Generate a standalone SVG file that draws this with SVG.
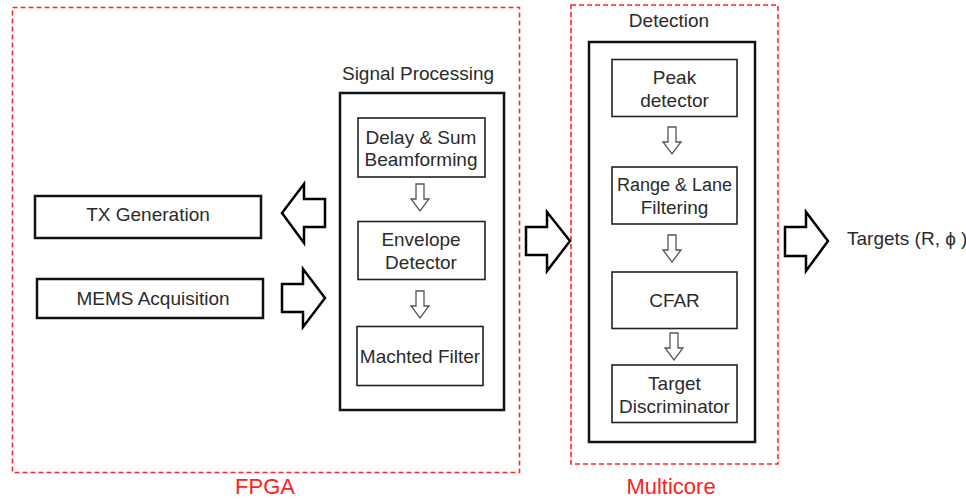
<svg xmlns="http://www.w3.org/2000/svg" xmlns:xlink="http://www.w3.org/1999/xlink" width="966" height="500" viewBox="0 0 966 500">
<style>
text{font-family:"Liberation Sans",Arial,sans-serif;font-size:19px;fill:#2b2b2b;text-anchor:middle}
.red{fill:#ff2020;font-size:22px}
.zone{fill:none;stroke:#ff2a2a;stroke-width:1.6;stroke-dasharray:5,3}
.outer{fill:#fff;stroke:#111;stroke-width:2.5}
.box{fill:#fff;stroke:#222;stroke-width:1.6}
.big{fill:#fff;stroke:#000;stroke-width:2.5;stroke-linejoin:miter}
.small{fill:#fff;stroke:#555;stroke-width:1.3}
</style>
<defs>
<path id="dn" d="M-4,0 H4 V15 H9 L0,27 L-9,15 H-4 Z"/>
</defs>
<rect width="966" height="500" fill="#fff"/>
<g id="fpga">
<rect class="zone" x="12.5" y="7.5" width="507" height="465"/>
<text class="red" x="265" y="494">FPGA</text>
</g>
<g id="multicore">
<rect class="zone" x="571" y="5" width="207" height="459"/>
<text class="red" x="671" y="494">Multicore</text>
</g>
<g id="signal-processing">
<text x="418" y="80">Signal Processing</text>
<rect class="outer" x="340" y="93" width="164" height="317"/>
</g>
<g id="delay-sum">
<rect class="box" x="358" y="118" width="127" height="59"/>
<text x="421" y="143.5">Delay &amp; Sum</text>
<text x="421" y="165.5">Beamforming</text>
</g>
<g id="envelope">
<rect class="box" x="358" y="221.5" width="127" height="58"/>
<text x="421" y="245.5">Envelope</text>
<text x="421" y="268.5">Detector</text>
</g>
<g id="matched-filter">
<rect class="box" x="357" y="326.5" width="126" height="59"/>
<text x="420" y="362.5">Machted Filter</text>
</g>
<g id="tx">
<rect class="outer" x="35" y="196" width="226" height="42"/>
<text x="148" y="220.5">TX Generation</text>
</g>
<g id="mems">
<rect class="outer" x="37" y="279" width="226" height="39"/>
<text x="153" y="305">MEMS Acquisition</text>
</g>
<g id="detection">
<text x="669" y="27">Detection</text>
<rect class="outer" x="589" y="42" width="166" height="400"/>
</g>
<g id="peak">
<rect class="box" x="612" y="59.5" width="125" height="57"/>
<text x="674.5" y="83.5">Peak</text>
<text x="674.5" y="106.5">detector</text>
</g>
<g id="range">
<rect class="box" x="612" y="167" width="125" height="57"/>
<text x="674.5" y="190.5" style="font-size:18px">Range &amp; Lane</text>
<text x="674.5" y="213.5">Filtering</text>
</g>
<g id="cfar">
<rect class="box" x="612" y="272" width="125" height="56.5"/>
<text x="674.5" y="306.5">CFAR</text>
</g>
<g id="discriminator">
<rect class="box" x="612" y="365" width="125" height="57.5"/>
<text x="674.5" y="389.5">Target</text>
<text x="674.5" y="412.5">Discriminator</text>
</g>
<g id="targets">
<text x="847" y="245" style="text-anchor:start">Targets (R, ϕ )</text>
</g>
<g id="connectors">
<path class="big" d="M282,213 L304,184 V199 H325 V227 H304 V243 Z"/>
<path class="big" d="M282,284 H303 V269 L325,298 L303,327 V312 H282 Z"/>
<path class="big" d="M526,227 H547 V212 L570,241 L547,271 V255 H526 Z"/>
<path class="big" d="M785,227 H806 V212 L828,241 L806,271 V256 H785 Z"/>
<use class="small" xlink:href="#dn" transform="translate(420,184)"/>
<use class="small" xlink:href="#dn" transform="translate(420,291)"/>
<use class="small" xlink:href="#dn" transform="translate(672,127)"/>
<use class="small" xlink:href="#dn" transform="translate(672,235)"/>
<use class="small" xlink:href="#dn" transform="translate(674,333)"/>
</g>
</svg>
